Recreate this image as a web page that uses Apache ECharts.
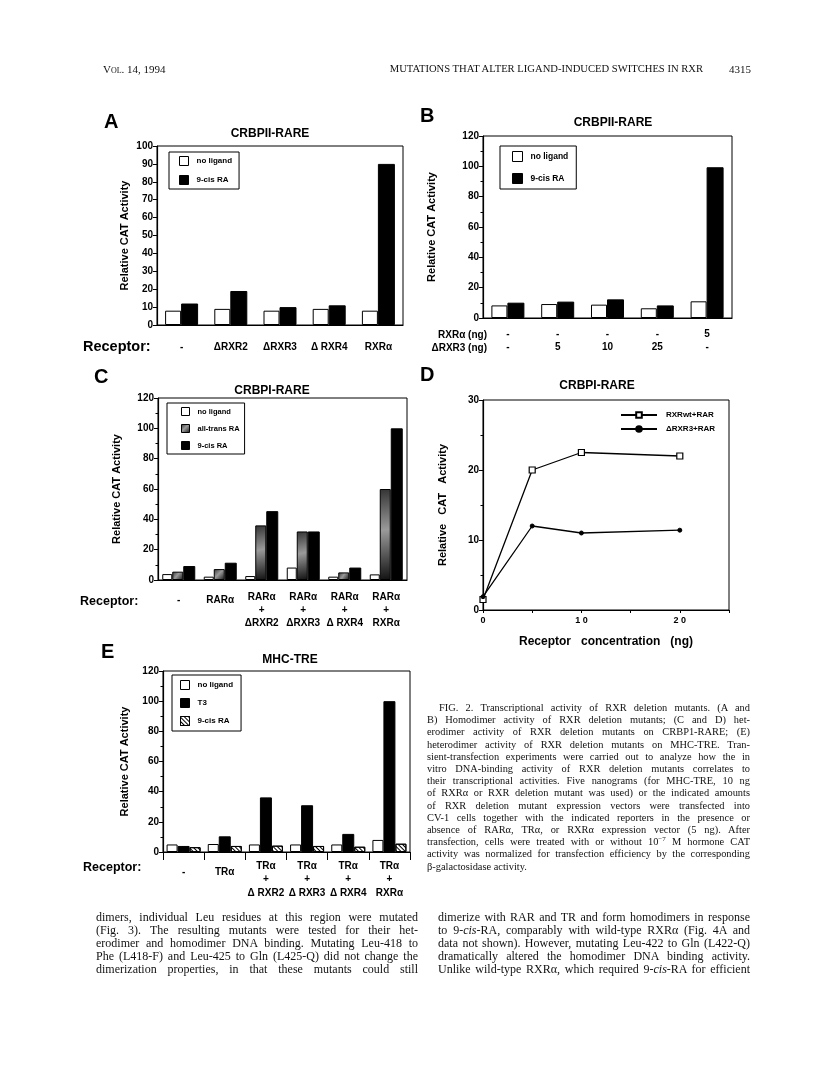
<!DOCTYPE html>
<html><head><meta charset="utf-8">
<script src="https://cdn.jsdelivr.net/npm/echarts@6/dist/echarts.min.js"></script>
<style>
html,body{margin:0;padding:0;background:#fff;}
#chart{position:absolute;left:0;top:0;width:816px;height:1084px;}
.t{position:absolute;font-family:"Liberation Serif","Times New Roman",serif;color:#111;line-height:12.2px;}
.j{text-align:justify;text-align-last:justify;}
.cap{font-size:10.4px;left:427px;width:323px;}
.bl{font-size:12px;left:96px;width:322px;line-height:13px;}
.br{font-size:12px;left:438px;width:312px;line-height:13px;}
.sup{font-size:7px;line-height:0;position:relative;top:-4px;}
</style></head><body>
<div id="chart"></div>
<div class="t" style="left:103px;top:63px;font-size:11px;font-variant:small-caps;">Vol. 14, 1994</div>
<div class="t" style="left:300px;top:63px;font-size:10.6px;width:403px;text-align:right;white-space:nowrap;">MUTATIONS THAT ALTER LIGAND-INDUCED SWITCHES IN RXR</div>
<div class="t" style="left:729px;top:63px;font-size:11px;">4315</div>

<div id="caption"></div>
<div id="body"></div>
<script>
// ---------------- DATA ----------------
const catsA = ['-', 'ΔRXR2', 'ΔRXR3', 'Δ RXR4', 'RXRα'];
const A_noLigand = [8, 9, 8, 9, 8];
const A_9cis = [12, 19, 10, 11, 90];

const B_rxra = ['-', '-', '-', '-', '5'];
const B_drxr3 = ['-', '5', '10', '25', '-'];
const B_noLigand = [8.3, 9.2, 8.8, 6.4, 11];
const B_9cis = [10.1, 10.8, 12.3, 8.3, 99.4];

const catsC = ['-', 'RARα', 'RARα\n+\nΔRXR2', 'RARα\n+\nΔRXR3', 'RARα\n+\nΔ RXR4', 'RARα\n+\nRXRα'];
const C_noLigand = [3.9, 2.2, 2.6, 8.2, 2.2, 3.7];
const C_allTrans = [5.5, 7.2, 36, 32, 5, 60];
const C_9cis = [9.2, 11.4, 45.4, 32, 8.2, 100];

const D_conc = [0, 5, 10, 20];
const D_wt = [1.5, 20, 22.5, 22];
const D_d3 = [1.9, 12, 11, 11.4];

const catsE = ['-', 'TRα', 'TRα\n+\nΔ RXR2', 'TRα\n+\nΔ RXR3', 'TRα\n+\nΔ RXR4', 'TRα\n+\nRXRα'];
const E_noLigand = [5, 5.3, 5, 5, 5, 8];
const E_T3 = [4, 10.4, 36.2, 31, 12, 100];
const E_9cis = [3.2, 4, 4.2, 4, 3.5, 5.5];

const LABELS = {
  A_nl: 'no ligand', A_9c: '9-cis RA',
  B_nl: 'no ligand', B_9c: '9-cis RA',
  C_nl: 'no ligand', C_at: 'all-trans RA', C_9c: '9-cis RA',
  D_wt: 'RXRwt+RAR', D_d3: 'ΔRXR3+RAR',
  E_nl: 'no ligand', E_t3: 'T3', E_9c: '9-cis RA'
};

// ---------------- page text ----------------
const capLines = [
 'FIG. 2. Transcriptional activity of RXR deletion mutants. (A and',
 'B) Homodimer activity of RXR deletion mutants; (C and D) het-',
 'erodimer activity of RXR deletion mutants on CRBP1-RARE; (E)',
 'heterodimer activity of RXR deletion mutants on MHC-TRE. Tran-',
 'sient-transfection experiments were carried out to analyze how the in',
 'vitro DNA-binding activity of RXR deletion mutants correlates to',
 'their transcriptional activities. Five nanograms (for MHC-TRE, 10 ng',
 'of RXRα or RXR deletion mutant was used) or the indicated amounts',
 'of RXR deletion mutant expression vectors were transfected into',
 'CV-1 cells together with the indicated reporters in the presence or',
 'absence of RARα, TRα, or RXRα expression vector (5 ng). After',
 'transfection, cells were treated with or without 10<span class="sup">−7</span> M hormone CAT',
 'activity was normalized for transfection efficiency by the corresponding',
 'β-galactosidase activity.'
];
let h = '';
capLines.forEach((l, i) => {
  const last = i === capLines.length - 1;
  const ind = i === 0 ? 'left:439px;width:311px;' : '';
  h += '<div class="t cap' + (last ? '' : ' j') + '" style="top:' + (702 + i * 12.2) + 'px;' + ind + '">' + l + '</div>';
});
document.getElementById('caption').innerHTML = h;

const bodyL = [
 'dimers, individual Leu residues at this region were mutated',
 '(Fig. 3). The resulting mutants were tested for their het-',
 'erodimer and homodimer DNA binding. Mutating Leu-418 to',
 'Phe (L418-F) and Leu-425 to Gln (L425-Q) did not change the',
 'dimerization properties, in that these mutants could still'
];
const bodyR = [
 'dimerize with RAR and TR and form homodimers in response',
 'to 9-<i>cis</i>-RA, comparably with wild-type RXRα (Fig. 4A and',
 'data not shown). However, mutating Leu-422 to Gln (L422-Q)',
 'dramatically altered the homodimer DNA binding activity.',
 'Unlike wild-type RXRα, which required 9-<i>cis</i>-RA for efficient'
];
let b = '';
bodyL.forEach((l, i) => { b += '<div class="t bl j" style="top:' + (911 + i * 13) + 'px">' + l + '</div>'; });
bodyR.forEach((l, i) => { b += '<div class="t br j" style="top:' + (911 + i * 13) + 'px">' + l + '</div>'; });
document.getElementById('body').innerHTML = b;

// ---------------- chart ----------------
const FONT = '"Liberation Sans", Arial, Helvetica, sans-serif';
const chart = echarts.init(document.getElementById('chart'), null, {renderer: 'canvas'});

const gridBase = {show: true, borderColor: '#000', borderWidth: 1, backgroundColor: 'transparent', containLabel: false};
const grids = [
  Object.assign({left: 157, top: 146, width: 246, height: 179}, gridBase),
  Object.assign({left: 483, top: 136, width: 249, height: 182}, gridBase),
  Object.assign({left: 158, top: 398, width: 249, height: 182}, gridBase),
  Object.assign({left: 483, top: 400, width: 246, height: 210}, gridBase),
  Object.assign({left: 163, top: 671, width: 247, height: 181}, gridBase)
];

function yAx(gi, max, interval, nameGap, minor) {
  return {
    type: 'value', gridIndex: gi, min: 0, max: max, interval: interval,
    name: 'Relative CAT Activity', nameLocation: 'middle', nameGap: nameGap,
    nameTextStyle: {fontFamily: FONT, fontWeight: 'bold', fontSize: 11, color: '#000'},
    axisLine: {show: true, lineStyle: {color: '#000', width: 1.2}},
    axisTick: {show: true, length: 4, lineStyle: {color: '#000'}},
    minorTick: {show: !!minor, splitNumber: minor || 2, length: 2.5, lineStyle: {color: '#000'}},
    axisLabel: {fontFamily: FONT, fontWeight: 'bold', fontSize: 10, color: '#000', margin: 4},
    splitLine: {show: false}
  };
}
function xCat(gi, data, margin, lh, singleLH, ticks) {
  return {
    type: 'category', gridIndex: gi, data: data,
    axisLine: {show: true, lineStyle: {color: '#000', width: 1.2}},
    axisTick: {show: !!ticks, alignWithLabel: false, length: 8, lineStyle: {color: '#000'}},
    axisLabel: {
      interval: 0, fontFamily: FONT, fontWeight: 'bold', fontSize: 10, color: '#000',
      margin: margin, lineHeight: lh,
      formatter: function (v) { return (singleLH && v.indexOf('\n') < 0) ? '{s|' + v + '}' : v; },
      rich: {s: {lineHeight: singleLH || lh, fontFamily: FONT, fontWeight: 'bold', fontSize: 10, color: '#000'}}
    },
    splitLine: {show: false}
  };
}

const catsB = B_rxra.map((r, i) => r + '\n' + B_drxr3[i]);

const white = {color: '#fff', borderColor: '#000', borderWidth: 1};
const black = {color: '#000', borderColor: '#000', borderWidth: 1};
const grad = {
  color: new echarts.graphic.LinearGradient(0, 0, 1, 1, [
    {offset: 0, color: '#333'}, {offset: 0.45, color: '#9a9a9a'}, {offset: 1, color: '#111'}
  ]), borderColor: '#000', borderWidth: 1
};
const hatch = {
  color: '#fff', borderColor: '#000', borderWidth: 1,
  decal: {symbol: 'rect', symbolSize: 1, dashArrayX: [1, 0], dashArrayY: [1, 2], rotation: Math.PI / 4, color: '#000'}
};

function bar(name, gi, data, w, style) {
  return {type: 'bar', name: name, xAxisIndex: gi, yAxisIndex: gi, data: data, barWidth: w, barGap: '0%',
    itemStyle: style, emphasis: {disabled: true}, animation: false};
}

function legendBox(names, left, top, pad, itemGap, fs, iw) {
  return {
    data: names, left: left, top: top, orient: 'vertical', padding: pad, itemGap: itemGap,
    itemWidth: iw, itemHeight: iw, icon: 'rect', borderColor: '#000', borderWidth: 1,
    backgroundColor: '#fff', selectedMode: false,
    itemStyle: {borderColor: '#000', borderWidth: 1},
    textStyle: {fontFamily: FONT, fontWeight: 'bold', fontSize: fs, color: '#000', padding: [0, 0, 0, 3]},
    formatter: n => LABELS[n]
  };
}

function T(text, x, y, size, align, extra) {
  return Object.assign({type: 'text', x: x, y: y, silent: true,
    style: {text: text, fontFamily: FONT, fontWeight: 'bold', fontSize: size, fill: '#000',
      textAlign: align || 'left', textVerticalAlign: 'middle'}}, extra || {});
}

const option = {
  backgroundColor: '#fff',
  animation: false,
  grid: grids,
  xAxis: [
    xCat(0, catsA, 16, 13),
    xCat(1, catsB, 10, 13),
    xCat(2, catsC, 10.5, 13, 20),
    {
      type: 'value', gridIndex: 3, min: 0, max: 25, interval: 5,
      name: 'Receptor   concentration   (ng)', nameLocation: 'middle', nameGap: 26,
      nameTextStyle: {fontFamily: FONT, fontWeight: 'bold', fontSize: 12, color: '#000'},
      axisLine: {show: true, lineStyle: {color: '#000', width: 1.2}},
      axisTick: {show: true, length: 3, lineStyle: {color: '#000'}},
      axisLabel: {fontFamily: FONT, fontWeight: 'bold', fontSize: 9, color: '#000', margin: 6,
        formatter: v => (v % 10 === 0 ? String(v).split('').join(' ') : '')},
      splitLine: {show: false}
    },
    xCat(4, catsE, 7, 13.5, 27, true)
  ],
  yAxis: [
    yAx(0, 100, 10, 27, 0),
    yAx(1, 120, 20, 46, 2),
    yAx(2, 120, 20, 36, 2),
    Object.assign(yAx(3, 30, 10, 35, 2), {name: 'Relative   CAT   Activity'}),
    yAx(4, 120, 20, 33, 2)
  ],
  legend: [
    legendBox(['A_nl', 'A_9c'], 169, 152, [4, 7, 4, 10], 9, 8, 9),
    legendBox(['B_nl', 'B_9c'], 500, 146, [5, 8, 5, 12], 11, 8.5, 10),
    legendBox(['C_nl', 'C_at', 'C_9c'], 167, 403, [4, 5, 4, 14], 8, 7.5, 8),
    {
      data: ['D_wt', 'D_d3'], left: 620, top: 411, orient: 'vertical', itemGap: 6,
      itemWidth: 36, itemHeight: 7, selectedMode: false, padding: 0,
      textStyle: {fontFamily: FONT, fontWeight: 'bold', fontSize: 8, color: '#000', padding: [0, 0, 0, 4]},
      formatter: n => LABELS[n]
    },
    legendBox(['E_nl', 'E_t3', 'E_9c'], 172, 675, [5, 8, 5, 8], 8, 8, 9)
  ],
  series: [
    bar('A_nl', 0, A_noLigand, 16, white),
    bar('A_9c', 0, A_9cis, 17, black),
    bar('B_nl', 1, B_noLigand, 16, white),
    bar('B_9c', 1, B_9cis, 17, black),
    bar('C_nl', 2, C_noLigand, 10, white),
    bar('C_at', 2, C_allTrans, 11, grad),
    bar('C_9c', 2, C_9cis, 12, black),
    {type: 'line', name: 'D_wt', xAxisIndex: 3, yAxisIndex: 3,
      data: D_conc.map((c, i) => [c, D_wt[i]]), symbol: 'rect', symbolSize: 6,
      itemStyle: {color: '#fff', borderColor: '#000', borderWidth: 1.2},
      lineStyle: {color: '#000', width: 1.3}, emphasis: {disabled: true}},
    {type: 'line', name: 'D_d3', xAxisIndex: 3, yAxisIndex: 3,
      data: D_conc.map((c, i) => [c, D_d3[i]]), symbol: 'circle', symbolSize: 4,
      itemStyle: {color: '#000', borderColor: '#000', borderWidth: 1},
      lineStyle: {color: '#000', width: 1.3}, emphasis: {disabled: true}},
    bar('E_nl', 4, E_noLigand, 11, white),
    bar('E_t3', 4, E_T3, 12, black),
    bar('E_9c', 4, E_9cis, 11, hatch)
  ],
  graphic: [
    T('A', 104, 122, 20),
    T('B', 420, 116, 20),
    T('C', 94, 377, 20),
    T('D', 420, 375, 20),
    T('E', 101, 652, 20),
    T('CRBPII-RARE', 270, 134, 12, 'center'),
    T('CRBPII-RARE', 613, 123, 12, 'center'),
    T('CRBPI-RARE', 272, 391, 12, 'center'),
    T('CRBPI-RARE', 597, 386, 12, 'center'),
    T('MHC-TRE', 290, 660, 12, 'center'),
    T('Receptor:', 83, 347, 14.5),
    T('RXRα (ng)', 487, 335, 10, 'right'),
    T('ΔRXR3 (ng)', 487, 348, 10, 'right'),
    T('Receptor:', 80, 602, 12.5),
    T('Receptor:', 83, 868, 12.5)
  ]
};
chart.setOption(option);
</script>
</body></html>
